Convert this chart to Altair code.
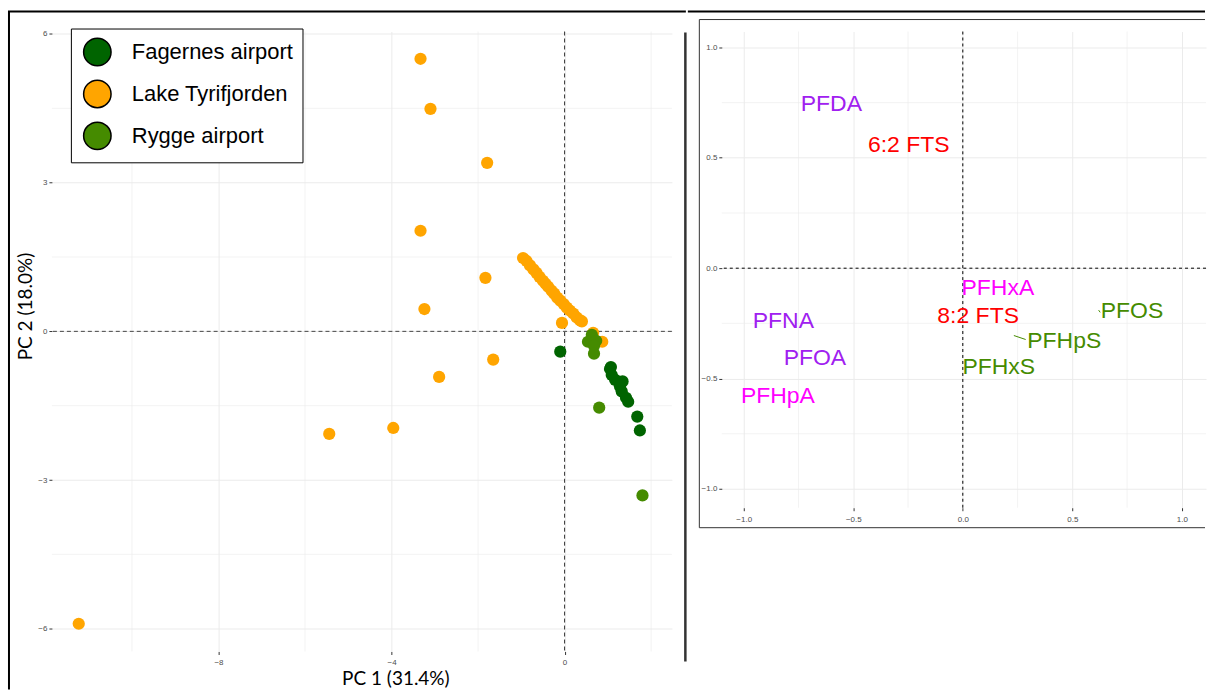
import altair as alt
import pandas as pd

# ---------------- Left panel: PCA scores ----------------
site_names = ["Fagernes airport", "Lake Tyrifjorden", "Rygge airport"]
site_colors = ["#006400", "#FFA500", "#458B00"]

lake_pc1 = [-3.33, -3.10, -1.79, -3.33, -1.83, -3.24, -1.65, -2.90, -3.96, -5.44, -11.23, -0.06,
            -0.96, -0.88, -0.80, -0.72, -0.65, -0.58, -0.50, -0.44, -0.38, -0.30, -0.24, -0.17,
            -0.10, -0.02, 0.05, 0.12, 0.20, 0.28, 0.36, 0.40, 0.66, 0.87]
lake_pc2 = [5.50, 4.49, 3.40, 2.03, 1.08, 0.45, -0.57, -0.92, -1.95, -2.07, -5.90, 0.17,
            1.48, 1.42, 1.33, 1.25, 1.18, 1.10, 1.02, 0.96, 0.90, 0.82, 0.76, 0.68,
            0.62, 0.55, 0.48, 0.42, 0.36, 0.28, 0.22, 0.20, -0.03, -0.21]

fag_pc1 = [-0.10, 1.07, 1.05, 1.09, 1.17, 1.34, 1.28, 1.32, 1.42, 1.47, 1.68, 1.74]
fag_pc2 = [-0.41, -0.72, -0.76, -0.88, -0.98, -1.01, -1.11, -1.21, -1.34, -1.42, -1.72, -2.00]

ryg_pc1 = [0.63, 0.54, 0.73, 0.68, 0.68, 0.80, 1.80]
ryg_pc2 = [-0.07, -0.21, -0.19, -0.29, -0.45, -1.54, -3.31]

x1_ticks = [-8, -4, 0]
x1_minor = [-10, -6, -2, 2]
y1_ticks = [-6, -3, 0, 3, 6]
y1_minor = [-4.5, -1.5, 1.5, 4.5]

# ---------------- Right panel: loadings ----------------
comp = ["PFDA", "6:2 FTS", "PFHxA", "8:2 FTS", "PFOS", "PFHpS", "PFHxS", "PFNA", "PFOA", "PFHpA"]
load_x = [-0.600, -0.247, 0.160, 0.070, 0.772, 0.463, 0.164, -0.819, -0.675, -0.844]
load_y = [0.743, 0.560, -0.091, -0.215, -0.196, -0.330, -0.446, -0.238, -0.407, -0.579]
comp_group = ["PFCA long", "FTS", "PFCA short", "FTS", "PFSA", "PFSA", "PFSA",
              "PFCA long", "PFCA long", "PFCA short"]
group_names = ["PFCA long", "PFCA short", "FTS", "PFSA"]
group_colors = ["#A020F0", "#FF00FF", "#FF0000", "#458B00"]

# leader segments (ggrepel style)
seg_x = [0.233, 0.620]
seg_y = [-0.305, -0.190]
seg_x2 = [0.287, 0.627]
seg_y2 = [-0.323, -0.200]

x2_ticks = [-1.0, -0.5, 0.0, 0.5, 1.0]
x2_minor = [-0.75, -0.25, 0.25, 0.75]
y2_ticks = [-1.0, -0.5, 0.0, 0.5, 1.0]
y2_minor = [-0.75, -0.25, 0.25, 0.75]

# ---------------- build tables ----------------
scores = pd.concat([
    pd.DataFrame({"PC1": lake_pc1, "PC2": lake_pc2, "site": site_names[1]}),
    pd.DataFrame({"PC1": fag_pc1, "PC2": fag_pc2, "site": site_names[0]}),
    pd.DataFrame({"PC1": ryg_pc1, "PC2": ryg_pc2, "site": site_names[2]}),
], ignore_index=True)
loads = pd.DataFrame({"x": load_x, "y": load_y, "label": comp, "grp": comp_group})
segs = pd.DataFrame({"x": seg_x, "y": seg_y, "x2": seg_x2, "y2": seg_y2})
one = pd.DataFrame({"k": [0]})

GRID = "#EBEBEB"
LW, LH = 621, 621
RW, RH = 485, 477

xs1 = alt.Scale(domain=[-11.85, 2.48], nice=False, zero=False)
ys1 = alt.Scale(domain=[-6.46, 6.05], nice=False, zero=False)
xs2 = alt.Scale(domain=[-1.1, 1.11], nice=False, zero=False)
ys2 = alt.Scale(domain=[-1.085, 1.072], nice=False, zero=False)

axis_common = dict(domain=False, labelFont="Liberation Sans", labelFontSize=8, labelColor="#4D4D4D",
                   tickColor="#333333", tickSize=3, gridColor=GRID, gridWidth=1)

# ---- left chart layers ----
minx1 = alt.Chart(pd.DataFrame({"v": x1_minor})).mark_rule(color=GRID, strokeWidth=0.6).encode(
    x=alt.X("v:Q", scale=xs1))
miny1 = alt.Chart(pd.DataFrame({"v": y1_minor})).mark_rule(color=GRID, strokeWidth=0.6).encode(
    y=alt.Y("v:Q", scale=ys1))
zero_v1 = alt.Chart(one).mark_rule(color="#333333", strokeDash=[4, 3], strokeWidth=1).encode(
    x=alt.datum(0, scale=xs1))
zero_h1 = alt.Chart(one).mark_rule(color="#444444", strokeDash=[4, 3], strokeWidth=1).encode(
    y=alt.datum(0, scale=ys1))

pts = alt.Chart(scores).mark_circle(size=150, opacity=1).encode(
    x=alt.X("PC1:Q", scale=xs1,
            axis=alt.Axis(values=x1_ticks, format="d", title="PC 1 (31.4%)", grid=True, labelPadding=4,
                          titleFont="Lato", titleFontSize=19, titleFontWeight="normal", titleColor="black",
                          titleX=344, titleY=27, titleAlign="center", titleBaseline="middle",
                          **axis_common)),
    y=alt.Y("PC2:Q", scale=ys1,
            axis=alt.Axis(values=y1_ticks, format="d", title="PC 2 (18.0%)", grid=True, labelPadding=2,
                          titleFont="Lato", titleFontSize=19, titleFontWeight="normal", titleColor="black",
                          titleX=-26, titleY=275, titleAlign="center", titleBaseline="middle",
                          **axis_common)),
    color=alt.Color("site:N", scale=alt.Scale(domain=site_names, range=site_colors),
                    legend=alt.Legend(title=None, orient="none", legendX=19, legendY=-3,
                                      direction="vertical", strokeColor="black", fillColor="white",
                                      padding=9, symbolType="circle", symbolSize=755, symbolOffset=3,
                                      symbolStrokeColor="black", symbolStrokeWidth=1.5,
                                      symbolOpacity=1, labelFont="Liberation Sans", labelFontSize=22,
                                      labelColor="black", labelOffset=20, rowPadding=7,
                                      labelLimit=300)),
)

frame_left = alt.Chart(one).mark_rule(color="black", strokeWidth=2).encode(
    x=alt.value(-43), y=alt.value(-20), y2=alt.value(659))
frame_top_l = alt.Chart(one).mark_rule(color="black", strokeWidth=2, strokeCap="square").encode(
    x=alt.value(-43), x2=alt.value(634), y=alt.value(-20))
separator = alt.Chart(one).mark_rule(color="#333333", strokeWidth=2.5).encode(
    x=alt.value(634.5), y=alt.value(1), y2=alt.value(631))

left = alt.layer(minx1, miny1, zero_v1, zero_h1, pts, frame_left, frame_top_l, separator).properties(
    width=LW, height=LH)

# ---- right chart layers ----
minx2 = alt.Chart(pd.DataFrame({"v": x2_minor})).mark_rule(color=GRID, strokeWidth=0.6).encode(
    x=alt.X("v:Q", scale=xs2))
miny2 = alt.Chart(pd.DataFrame({"v": y2_minor})).mark_rule(color=GRID, strokeWidth=0.6).encode(
    y=alt.Y("v:Q", scale=ys2))
zero_v2 = alt.Chart(one).mark_rule(color="black", strokeDash=[3, 3], strokeWidth=1).encode(
    x=alt.datum(0, scale=xs2))
zero_h2 = alt.Chart(one).mark_rule(color="black", strokeDash=[3, 3], strokeWidth=1).encode(
    y=alt.datum(0, scale=ys2))
seg_layer = alt.Chart(segs).mark_rule(color="#458B00", strokeWidth=1).encode(
    x=alt.X("x:Q", scale=xs2), y=alt.Y("y:Q", scale=ys2), x2="x2:Q", y2="y2:Q")
txt = alt.Chart(loads).mark_text(font="Liberation Sans", fontSize=23, align="center",
                                 baseline="middle").encode(
    x=alt.X("x:Q", scale=xs2,
            axis=alt.Axis(values=x2_ticks, format=".1f", title=None, grid=True, labelPadding=5,
                          **axis_common)),
    y=alt.Y("y:Q", scale=ys2,
            axis=alt.Axis(values=y2_ticks, format=".1f", title=None, grid=True, labelPadding=2,
                          **axis_common)),
    text="label:N",
    color=alt.Color("grp:N", scale=alt.Scale(domain=group_names, range=group_colors), legend=None),
)

box_left = alt.Chart(one).mark_rule(color="#333333", strokeWidth=1).encode(
    x=alt.value(-22.5), y=alt.value(-12), y2=alt.value(497))
box_top = alt.Chart(one).mark_rule(color="#333333", strokeWidth=1).encode(
    x=alt.value(-22.5), x2=alt.value(RW - 1), y=alt.value(-12))
box_bottom = alt.Chart(one).mark_rule(color="#333333", strokeWidth=1).encode(
    x=alt.value(-22.5), x2=alt.value(RW - 1), y=alt.value(497))
frame_top_r = alt.Chart(one).mark_rule(color="black", strokeWidth=2, strokeCap="square").encode(
    x=alt.value(-33), x2=alt.value(RW - 2), y=alt.value(-20))

right = alt.layer(minx2, miny2, zero_v2, zero_h2, seg_layer, txt,
                  box_left, box_top, box_bottom, frame_top_r).properties(width=RW, height=RH)

chart = alt.hconcat(left, right, spacing=0).resolve_scale(color="independent").properties(
    padding={"left": 7, "top": 9, "right": 0, "bottom": 0}
).configure_view(strokeOpacity=0)

chart.save("out.html", embed_options={"renderer": "svg", "actions": False})
